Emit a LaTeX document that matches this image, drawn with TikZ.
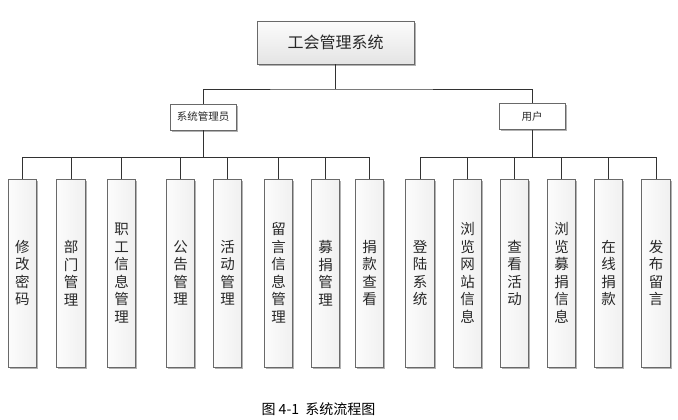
\documentclass[tikz,border=0pt]{standalone}
\usepackage{fontspec}
\setmainfont{Noto Sans CJK SC}
\newfontfamily\cjk{Noto Sans CJK SC}
\usetikzlibrary{shadows}
\definecolor{boxline}{RGB}{105,105,105}
\definecolor{boxfill}{RGB}{240,240,240}
\definecolor{boxtop}{RGB}{252,252,252}
\definecolor{boxbot}{RGB}{228,228,228}
\definecolor{conn}{RGB}{50,50,50}
\definecolor{txt}{RGB}{40,40,40}
\tikzset{
  basebox/.style={draw=boxline, line width=0.9pt, inner sep=0pt, text=txt,
    drop shadow={shadow xshift=1.6pt, shadow yshift=-1.6pt, fill=black, opacity=0.3}},
  titlebox/.style={basebox, top color=boxtop, bottom color=boxbot,
    minimum width=157pt, minimum height=43pt, font=\cjk\fontsize{16}{19}\selectfont},
  rolebox/.style={basebox, fill=white, minimum width=66pt, minimum height=26pt,
    font=\cjk\fontsize{10.5}{12}\selectfont},
  leafbox/.style={basebox, left color=boxtop, right color=boxfill,
    minimum width=28.5pt, minimum height=188pt, align=center,
    font=\cjk\fontsize{14.5}{17.5}\selectfont},
  link/.style={draw=conn, line width=0.8pt},
}
\begin{document}
\begin{tikzpicture}[x=1pt,y=-1pt]
\useasboundingbox (0,0) rectangle (678,420);
\node[titlebox] (title) at (335.5,42.5) {工会管理系统};
\node[rolebox] (admin) at (203,117) {系统管理员};
\node[rolebox] (user) at (532,116.5) {用户};

\node[leafbox] (a1) at (22.5,273) {修\\改\\密\\码};
\node[leafbox] (a2) at (71,273) {部\\门\\管\\理};
\node[leafbox] (a3) at (121.5,273) {职\\工\\信\\息\\管\\理};
\node[leafbox] (a4) at (180.5,273) {公\\告\\管\\理};
\node[leafbox] (a5) at (227.5,273) {活\\动\\管\\理};
\node[leafbox] (a6) at (278.5,273) {留\\言\\信\\息\\管\\理};
\node[leafbox] (a7) at (325.5,273) {募\\捐\\管\\理};
\node[leafbox] (a8) at (369.5,273) {捐\\款\\查\\看};

\node[leafbox] (u1) at (420,273) {登\\陆\\系\\统};
\node[leafbox] (u2) at (467.5,273) {浏\\览\\网\\站\\信\\息};
\node[leafbox] (u3) at (514.5,273) {查\\看\\活\\动};
\node[leafbox] (u4) at (561.5,273) {浏\\览\\募\\捐\\信\\息};
\node[leafbox] (u5) at (608.5,273) {在\\线\\捐\\款};
\node[leafbox] (u6) at (656,273) {发\\布\\留\\言};

\coordinate (topbus) at (335.5,89);
\coordinate (abus) at (203,157);
\coordinate (ubus) at (532,157);

\draw[link] (title.south) -- (topbus);
\draw[link] (admin.north) |- (topbus) -| (user.north);
\draw[link] (admin.south) -- (abus);
\draw[link] (user.south) -- (ubus);
\foreach \i in {1,...,8} { \draw[link] (abus) -| (a\i.north); }
\foreach \i in {1,...,6} { \draw[link] (ubus) -| (u\i.north); }

\node[font=\cjk\fontsize{14}{16}\selectfont, text=black] (caption) at (318.5,409) {图\ 4-1\ \ 系统流程图};
\end{tikzpicture}
\end{document}
